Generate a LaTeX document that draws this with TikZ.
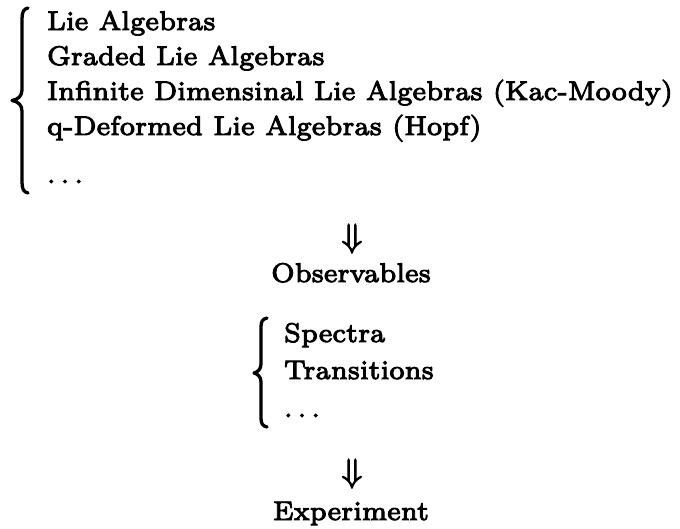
\documentclass[tikz,border=0pt]{standalone}

\begin{document}
\begin{tikzpicture}[
    x=0.2732pt, y=-0.2732pt,
    font=\fontsize{7.35}{9.56}\selectfont,
    every node/.style={inner sep=0pt, outer sep=0pt,
        execute at begin node={\special{pdf:literal direct 2 Tr 0.26 w}},
        execute at end node={\special{pdf:literal direct 0 Tr}}},
    listbox/.style={anchor=base west, align=left},
    stagebox/.style={anchor=base},
    impliesbox/.style={anchor=north, font=\fontsize{9.3}{11}\selectfont},
    bracepath/.style={line width=0.9pt, line cap=round, line join=round}
]

    % Frame: 680 x 529 px, y grows downwards
    \useasboundingbox (0,0) rectangle (680,529);

    % 1. Algebras
    \node[listbox] (algebras) at (47,30) {%
        \begin{tabular}[t]{@{}l@{}}
            Lie Algebras\\
            Graded Lie Algebras\\
            Infinite Dimensinal Lie Algebras (Kac-Moody)\\
            q-Deformed Lie Algebras (Hopf)\\[3.55pt]
            $\ldots$
        \end{tabular}};
    % brace: stem at x=22, tip at x=12
    \draw[bracepath] (28,8) .. controls (23.5,9) and (22,12) .. (22,19)
        -- (22,90) .. controls (22,96) and (18,99.5) .. (12,100.5)
        .. controls (18,101.5) and (22,105) .. (22,111)
        -- (22,182) .. controls (22,189) and (23.5,192) .. (28,193);

    % 2. Observables
    \node[impliesbox] (toobs) at (352,224) {$\Downarrow$};
    \node[stagebox] (observables) at (351,282) {Observables};

    % 3. Spectra, transitions
    \node[listbox] (spectra) at (284,342) {%
        \begin{tabular}[t]{@{}l@{}}
            Spectra\\[0.55pt]
            Transitions\\[0.8pt]
            $\ldots$
        \end{tabular}};
    % brace: stem at x=261, tip at x=254
    \draw[bracepath] (267,318) .. controls (262.5,319) and (261,321.5) .. (261,327)
        -- (261,364) .. controls (261,369) and (258,372) .. (254,373)
        .. controls (258,374) and (261,377) .. (261,382)
        -- (261,418) .. controls (261,423.5) and (262.5,426) .. (267,427);

    % 4. Experiment
    \node[impliesbox] (toexp) at (352,459) {$\Downarrow$};
    \node[stagebox] (experiment) at (351,520) {Experiment};

\end{tikzpicture}
\end{document}
